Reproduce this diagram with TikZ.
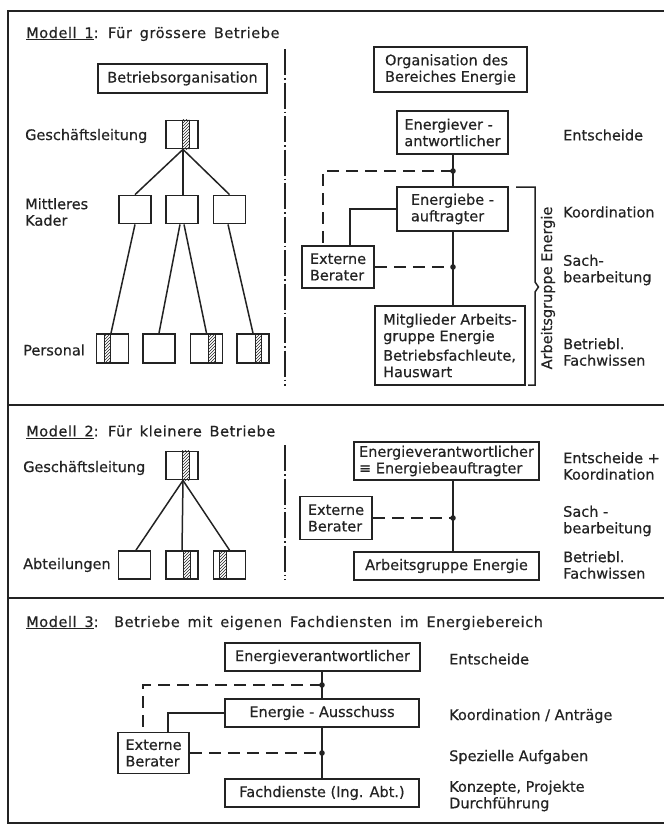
\documentclass[tikz,border=0pt]{standalone}
\usepackage{fontspec}
\setmainfont[FakeBold=0.5]{DejaVu Sans}
\newfontfamily\titlefont[FakeBold=0.5,LetterSpace=4,WordSpace=1.5]{DejaVu Sans}
\usetikzlibrary{patterns}
\definecolor{ink}{RGB}{35,35,35}
\tikzset{
  txt/.style={font=\fontsize{14.5}{16.5}\selectfont, text=ink},
  ttl/.style={font=\titlefont\fontsize{14.5}{16.5}\selectfont, text=ink, anchor=west, inner sep=0pt},
  lbl/.style={txt, anchor=west, align=left, inner sep=0pt},
  box/.style={txt, draw=ink, line width=1.8pt, inner sep=2pt, align=left},
  hbox/.style={txt, draw=ink, line width=2.6pt, inner sep=2pt, align=left},
  sbox/.style={draw=ink, line width=1.8pt, minimum width=32pt, minimum height=28pt, inner sep=0pt},
  conn/.style={draw=ink, line width=1.5pt},
  dashline/.style={draw=ink, line width=1.5pt, dash pattern=on 12pt off 7pt},
  frameline/.style={draw=ink, line width=2.2pt},
  divline/.style={draw=ink, line width=1.5pt, dash pattern=on 26pt off 3pt on 1.5pt off 3pt},
  stripline/.style={draw=ink, line width=1pt},
}
\newcommand{\hatchstrip}[3]{%
  \fill[pattern=north east lines, pattern color=ink] ([xshift=#2pt]#1.south west) rectangle ([xshift=#2pt+#3pt]#1.north west);
  \draw[stripline] ([xshift=#2pt]#1.south west) -- ([xshift=#2pt]#1.north west)
                   ([xshift=#2pt+#3pt]#1.south west) -- ([xshift=#2pt+#3pt]#1.north west);}
\begin{document}
\begin{tikzpicture}[x=1pt,y=-1pt]
\useasboundingbox (0,0) rectangle (664,825);
% ---------- frame ----------
\draw[frameline] (664,11) -- (8,11) -- (8,823) -- (664,823);
\draw[frameline] (8,405) -- (664,405);
\draw[frameline] (8,598) -- (664,598);
\draw[divline] (285,49) -- (285,386);
\draw[divline] (285,445) -- (285,580);

% ================= MODELL 1 =================
\node[ttl] (t1) at (26,34) {\underline{Modell 1}: Für grössere Betriebe};
\node[hbox, minimum width=169pt, minimum height=29pt, align=center] (bo) at (182.5,78.5) {Betriebsorganisation};

\node[lbl] (lgl1) at (25,136) {Geschäftsleitung};
\node[lbl] (lmk) at (25,212) {Mittleres\\Kader};
\node[lbl] (lp) at (23,350) {Personal};

\node[sbox] (gl1) at (182,134.5) {};
\node[sbox] (mk1) at (135,209.5) {};
\node[sbox] (mk2) at (182,209.5) {};
\node[sbox] (mk3) at (229.5,209.5) {};
\node[sbox, minimum height=29pt] (p1) at (112.5,348.5) {};
\node[sbox, minimum height=29pt] (p2) at (159,348.5) {};
\node[sbox, minimum height=29pt] (p3) at (206.5,348.5) {};
\node[sbox, minimum height=29pt] (p4) at (253,348.5) {};
\hatchstrip{gl1}{17}{7}
\hatchstrip{p1}{8.5}{6.5}
\hatchstrip{p3}{18.5}{7}
\hatchstrip{p4}{19}{6.5}

\draw[conn] ([xshift=1pt]gl1.south) -- (mk1.north);
\draw[conn] ([xshift=1pt]gl1.south) -- ([xshift=1pt]mk2.north);
\draw[conn] ([xshift=1pt]gl1.south) -- (mk3.north);
\draw[conn] (mk1.south) -- ([xshift=-1.5pt]p1.north);
\draw[conn] ([xshift=-2pt]mk2.south) -- (p2.north);
\draw[conn] ([xshift=2pt]mk2.south) -- (p3.north);
\draw[conn] ([xshift=-1.5pt]mk3.south) -- (p4.north);

% right part
\node[hbox, minimum width=153pt, minimum height=45pt] (org) at (450.5,69.5) {Organisation des\\Bereiches Energie};
\node[box, minimum width=111pt, minimum height=43pt] (ev1) at (452.5,132.5) {Energiever -\\antwortlicher};
\node[box, minimum width=111pt, minimum height=44pt] (eb1) at (452.5,209) {Energiebe -\\auftragter};
\node[box, minimum width=72pt, minimum height=42pt] (ext1) at (338,267) {Externe\\Berater};
\node[box, minimum width=150pt, minimum height=79pt] (mg1) at (450,345.5) {Mitglieder Arbeits-\\gruppe Energie\\[3pt]Betriebsfachleute,\\Hauswart};

\coordinate (d1) at (453,171);
\coordinate (d2) at (453,267);
\draw[conn] (ev1.south -| d1) -- (eb1.north -| d1);
\draw[conn] (eb1.south -| d1) -- (mg1.north -| d1);
\draw[dashline] (d1) -| ([xshift=-15pt]ext1.north);
\draw[conn] (eb1.west) -| ([xshift=12pt]ext1.north);
\draw[dashline] (ext1.east) -- (d2);
\fill[ink] (d1) circle (2.8pt);
\fill[ink] (d2) circle (2.8pt);

\draw[conn] (516,187) -- (535,187) -- (535,282) -- (538.5,287) -- (535,292) -- (535,385) -- (528,385);
\node[txt, rotate=90, inner sep=0pt] (agE) at (548,288) {Arbeitsgruppe Energie};

\node[lbl] (r11) at (563,135) {Entscheide};
\node[lbl] (r12) at (563,212) {Koordination};
\node[lbl] (r13) at (563,270) {Sach-\\bearbeitung};
\node[lbl] (r14) at (563,352) {Betriebl.\\Fachwissen};

% ================= MODELL 2 =================
\node[ttl] (t2) at (26,432) {\underline{Modell 2}: Für kleinere Betriebe};
\node[lbl] (lgl2) at (23,468) {Geschäftsleitung};
\node[lbl] (lab) at (23,565) {Abteilungen};

\node[sbox] (gl2) at (182,465.5) {};
\node[sbox] (ab1) at (134.5,565) {};
\node[sbox] (ab2) at (182,565) {};
\node[sbox] (ab3) at (229.5,565) {};
\hatchstrip{gl2}{17}{7}
\hatchstrip{ab2}{18}{7.5}
\hatchstrip{ab3}{6.5}{7}
\draw[conn] ([xshift=1pt]gl2.south) -- ([xshift=1.5pt]ab1.north);
\draw[conn] ([xshift=1pt]gl2.south) -- (ab2.north);
\draw[conn] ([xshift=1pt]gl2.south) -- (ab3.north);

\node[box, minimum width=185pt, minimum height=38pt] (ev2) at (446.5,461) {Energieverantwortlicher\\≡ Energiebeauftragter};
\node[box, minimum width=72pt, minimum height=43pt] (ext2) at (336,518) {Externe\\Berater};
\node[box, minimum width=185pt, minimum height=28pt, align=center] (ag2) at (446.5,566) {Arbeitsgruppe Energie};
\coordinate (d3) at (453,518);
\draw[conn] (ev2.south -| d3) -- (ag2.north -| d3);
\draw[dashline] (ext2.east) -- (d3);
\fill[ink] (d3) circle (2.8pt);

\node[lbl] (r21) at (563,466) {Entscheide +\\Koordination};
\node[lbl] (r22) at (563,521) {Sach -\\bearbeitung};
\node[lbl] (r23) at (563,565) {Betriebl.\\Fachwissen};

% ================= MODELL 3 =================
\node[ttl] (t3) at (26,623) {\underline{Modell 3}:\ \ Betriebe mit eigenen Fachdiensten im Energiebereich};
\node[box, minimum width=195pt, minimum height=28pt, align=center] (ev3) at (322.5,657) {Energieverantwortlicher};
\node[box, minimum width=194pt, minimum height=28pt, align=center] (as3) at (322,713) {Energie - Ausschuss};
\node[box, minimum width=71pt, minimum height=41pt] (ext3) at (153.5,753) {Externe\\Berater};
\node[box, minimum width=194pt, minimum height=28pt, align=center] (fd3) at (322,793) {Fachdienste (Ing. Abt.)};
\coordinate (d4) at (322,685);
\coordinate (d5) at (322,753);
\draw[conn] (ev3.south -| d4) -- (as3.north -| d4);
\draw[conn] (as3.south -| d4) -- (fd3.north -| d4);
\draw[dashline] (d4) -| ([xshift=-10.5pt]ext3.north);
\draw[conn] (as3.west) -| ([xshift=14.5pt]ext3.north);
\draw[dashline] (ext3.east) -- (d5);
\fill[ink] (d4) circle (2.8pt);
\fill[ink] (d5) circle (2.8pt);

\node[lbl] (r31) at (449,659) {Entscheide};
\node[lbl] (r32) at (449,716) {Koordination / Anträge};
\node[lbl] (r33) at (449,757) {Spezielle Aufgaben};
\node[lbl] (r34) at (449,796) {Konzepte, Projekte\\Durchführung};
\end{tikzpicture}
\end{document}
